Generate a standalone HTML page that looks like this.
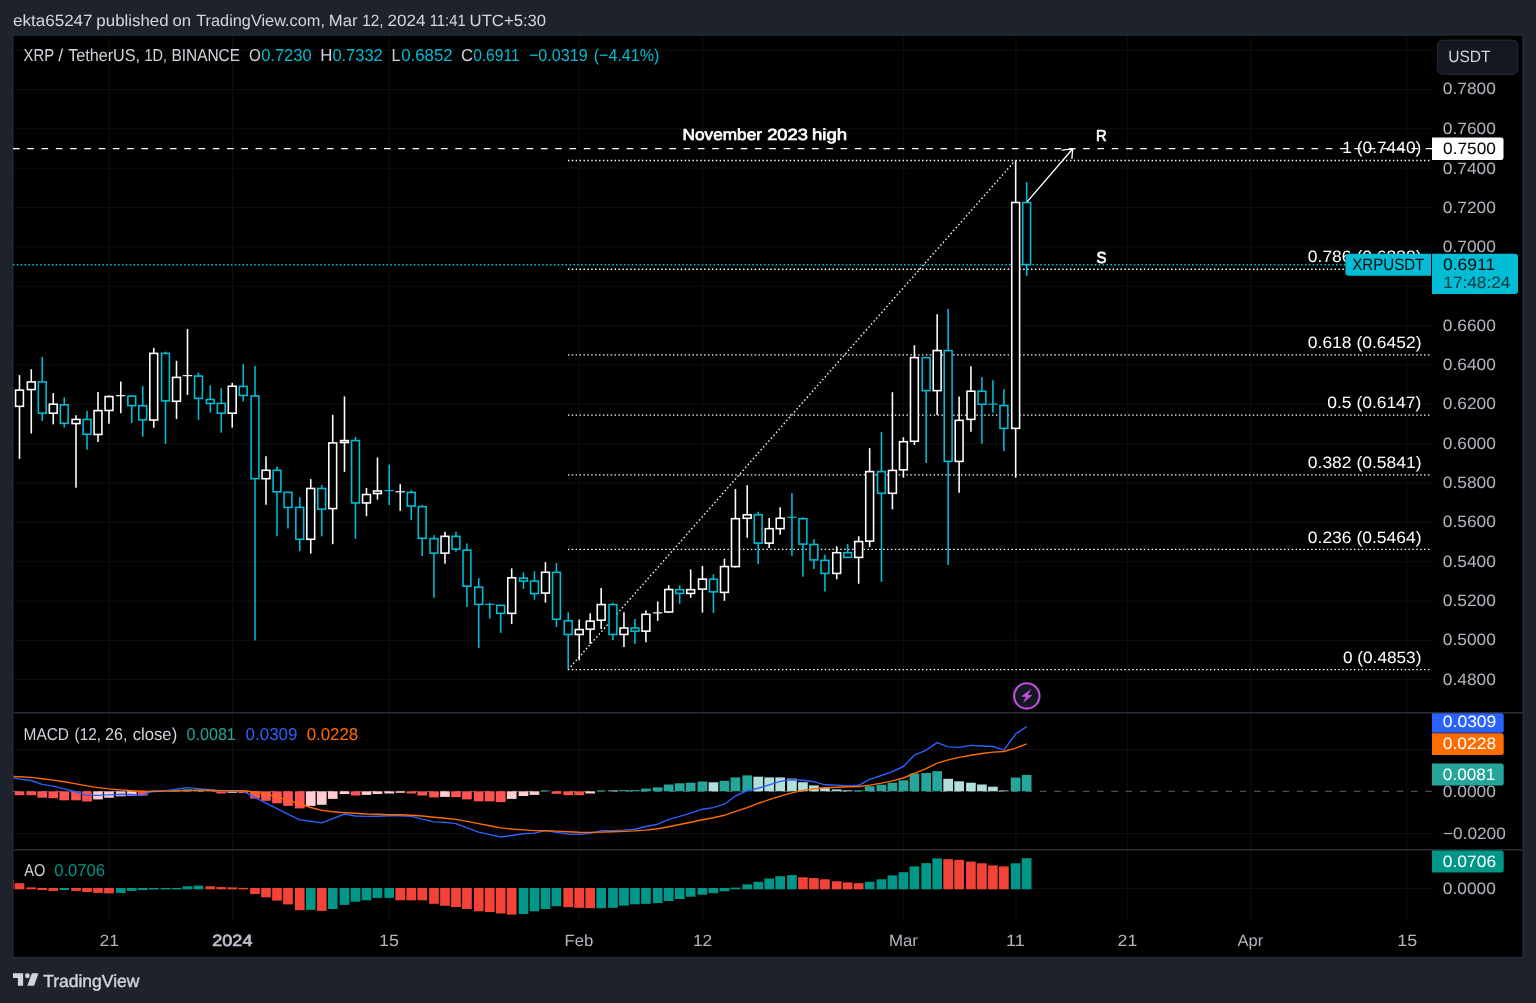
<!DOCTYPE html>
<html lang="en"><head><meta charset="utf-8"><title>XRP / TetherUS chart</title>
<style>html,body{margin:0;padding:0;background:#1e222d;overflow:hidden}svg{display:block}text{font-family:"Liberation Sans", Arial, sans-serif;white-space:pre;text-rendering:geometricPrecision}</style>
</head><body>
<svg width="1536" height="1003" viewBox="0 0 1536 1003">
<rect x="0" y="0" width="1536" height="1003" fill="#1e222d"/>
<rect x="12.1" y="34.3" width="1511.9" height="924" fill="#272b37"/>
<rect x="13.5" y="35.7" width="1508.9" height="921.2" fill="#000"/>
<g fill="rgba(255,255,255,0.06)"><rect x="108.69" y="36" width="1" height="885" /><rect x="231.94" y="36" width="1" height="885" /><rect x="388.94" y="36" width="1" height="885" /><rect x="578.91" y="36" width="1" height="885" /><rect x="702.15" y="36" width="1" height="885" /><rect x="903.11" y="36" width="1" height="885" /><rect x="1015.37" y="36" width="1" height="885" /><rect x="1126.84" y="36" width="1" height="885" /><rect x="1250.08" y="36" width="1" height="885" /><rect x="1406.3" y="36" width="1" height="885" /><rect x="14" y="49.5" width="1418" height="1"/><rect x="14" y="88.95" width="1418" height="1"/><rect x="14" y="128.31" width="1418" height="1"/><rect x="14" y="167.66" width="1418" height="1"/><rect x="14" y="207.01" width="1418" height="1"/><rect x="14" y="246.37" width="1418" height="1"/><rect x="14" y="285.72" width="1418" height="1"/><rect x="14" y="325.08" width="1418" height="1"/><rect x="14" y="364.43" width="1418" height="1"/><rect x="14" y="403.79" width="1418" height="1"/><rect x="14" y="443.14" width="1418" height="1"/><rect x="14" y="482.5" width="1418" height="1"/><rect x="14" y="521.86" width="1418" height="1"/><rect x="14" y="561.21" width="1418" height="1"/><rect x="14" y="600.56" width="1418" height="1"/><rect x="14" y="639.92" width="1418" height="1"/><rect x="14" y="679.27" width="1418" height="1"/><rect x="14" y="749" width="1418" height="1"/><rect x="14" y="832.9" width="1418" height="1"/><rect x="14" y="887.9" width="1418" height="1"/></g>
<rect x="14" y="712" width="1508" height="1.5" fill="#2a2e39"/>
<rect x="14" y="849" width="1508" height="1.5" fill="#2a2e39"/>
<g stroke="#fff" stroke-width="1.4" stroke-dasharray="1.45 2.4415" fill="none">
<line x1="567.9" y1="160.5" x2="1430" y2="160.5"/>
<line x1="567.9" y1="269.3" x2="1430" y2="269.3"/>
<line x1="567.9" y1="354.9" x2="1430" y2="354.9"/>
<line x1="567.9" y1="415.1" x2="1430" y2="415.1"/>
<line x1="567.9" y1="474.9" x2="1430" y2="474.9"/>
<line x1="567.9" y1="549.4" x2="1430" y2="549.4"/>
<line x1="567.9" y1="669.6" x2="1430" y2="669.6"/>
<line x1="568.1" y1="669.6" x2="1015.1" y2="160.6"/>
</g>
<line x1="12.9" y1="264.75" x2="1432" y2="264.75" stroke="#00bcd4" stroke-width="1.6" stroke-dasharray="1.6 2.2915"/>
<g stroke="#fff" stroke-width="1.57" fill="#000"><path d="M19.5 375.08V390.13"/><path d="M19.5 406.35V458.92"/><rect x="15.57" y="390.13" width="7.85" height="16.22"/><path d="M31.27 369.21V381.92"/><path d="M31.27 389.54V433.51"/><rect x="27.35" y="381.92" width="7.85" height="7.62"/><path d="M53.26 393.06V404.2"/><path d="M53.26 413.19V424.32"/><rect x="49.33" y="404.2" width="7.85" height="8.99"/><path d="M76.02 415.14V419.44"/><path d="M76.02 423.54V487.84"/><rect x="72.1" y="419.44" width="7.85" height="4.1"/><path d="M98 392.08V410.64"/><path d="M98 434.49V441.91"/><rect x="94.08" y="410.64" width="7.85" height="23.84"/><path d="M108.99 395.4V396.57"/><path d="M108.99 410.45V423.74"/><rect x="105.07" y="396.57" width="7.85" height="13.88"/><path d="M120.77 381.53V413.19"/><path stroke-width="1.15" d="M116.06 395.69H125.47"/><path d="M153.74 347.91V353.38"/><path d="M153.74 420.03V427.65"/><rect x="149.81" y="353.38" width="7.85" height="66.64"/><path d="M176.5 360.81V377.42"/><path d="M176.5 401.26V419.05"/><rect x="172.57" y="377.42" width="7.85" height="23.84"/><path d="M187.49 328.96V395.01"/><path stroke-width="1.15" d="M182.79 375.66H192.19"/><path d="M232.24 382.89V386.22"/><path d="M232.24 413.19V427.65"/><rect x="228.31" y="386.22" width="7.85" height="26.97"/><path d="M265.99 456.22V470.29"/><path d="M265.99 478.69V504.68"/><rect x="262.06" y="470.29" width="7.85" height="8.4"/><path d="M310.74 479.08V488.46"/><path d="M310.74 539.27V553.54"/><rect x="306.81" y="488.46" width="7.85" height="50.81"/><path d="M332.72 414.79V442.93"/><path d="M332.72 508.59V544.16"/><rect x="328.79" y="442.93" width="7.85" height="65.66"/><path d="M344.49 396.42V440.58"/><path d="M344.49 442.54V471.85"/><rect x="340.56" y="440.58" width="7.85" height="1.95"/><path d="M366.47 487.88V494.52"/><path d="M366.47 502.92V516.21"/><rect x="362.55" y="494.52" width="7.85" height="8.4"/><path d="M377.46 457.39V491"/><path d="M377.46 493.54V499.6"/><rect x="373.54" y="491" width="7.85" height="2.54"/><path d="M400.23 484.16V510.94"/><path stroke-width="1.15" d="M395.53 491.78H404.93"/><path d="M444.97 531.85V536.35"/><path d="M444.97 553.16V563.71"/><rect x="441.05" y="536.35" width="7.85" height="16.81"/><path d="M511.69 568.4V577.78"/><path d="M511.69 613.35V623.9"/><rect x="507.77" y="577.78" width="7.85" height="35.57"/><path d="M545.45 562.15V572.31"/><path d="M545.45 593.02V602.6"/><rect x="541.53" y="572.31" width="7.85" height="20.72"/><path d="M579.21 619.6V629.57"/><path d="M579.21 634.45V660.25"/><rect x="575.28" y="629.57" width="7.85" height="4.89"/><path d="M590.2 613.15V621.16"/><path d="M590.2 629.18V643.64"/><rect x="586.27" y="621.16" width="7.85" height="8.01"/><path d="M601.19 587.94V604.55"/><path d="M601.19 620.19V628.98"/><rect x="597.26" y="604.55" width="7.85" height="15.63"/><path d="M623.95 612.37V628"/><path d="M623.95 634.45V646.96"/><rect x="620.03" y="628" width="7.85" height="6.45"/><path d="M645.93 610.42V614.32"/><path d="M645.93 631.13V642.27"/><rect x="642.01" y="614.32" width="7.85" height="16.81"/><path d="M657.71 601.43V620.77"/><path stroke-width="1.15" d="M653 612.86H662.41"/><path d="M668.7 585.21V589.51"/><path d="M668.7 611.98V612.96"/><rect x="664.77" y="589.51" width="7.85" height="22.47"/><path d="M690.68 569.38V589.7"/><path d="M690.68 593.41V597.71"/><rect x="686.75" y="589.7" width="7.85" height="3.71"/><path d="M702.45 566.05V579.15"/><path d="M702.45 589.11V612.57"/><rect x="698.53" y="579.15" width="7.85" height="9.97"/><path d="M724.43 558.75V566.57"/><path d="M724.43 592.37V600.77"/><rect x="720.51" y="566.57" width="7.85" height="25.8"/><path d="M735.42 488.99V518.69"/><path d="M735.42 566.57V567.55"/><rect x="731.5" y="518.69" width="7.85" height="47.88"/><path d="M747.2 485.27V514.78"/><path d="M747.2 518.3V537.84"/><rect x="743.27" y="514.78" width="7.85" height="3.52"/><path d="M769.18 518.1V528.66"/><path d="M769.18 543.12V548"/><rect x="765.25" y="528.66" width="7.85" height="14.46"/><path d="M780.17 507.36V518.3"/><path d="M780.17 528.66V534.72"/><rect x="776.24" y="518.3" width="7.85" height="10.36"/><path d="M836.69 546.25V552.69"/><path d="M836.69 573.41V579.27"/><rect x="832.76" y="552.69" width="7.85" height="20.72"/><path d="M858.67 536.28V541.56"/><path d="M858.67 557.39V583.77"/><rect x="854.74" y="541.56" width="7.85" height="15.83"/><path d="M869.66 448.14V471.59"/><path d="M869.66 541.16V547.03"/><rect x="865.73" y="471.59" width="7.85" height="69.57"/><path d="M892.42 392.2V470.42"/><path d="M892.42 493.29V509.31"/><rect x="888.5" y="470.42" width="7.85" height="22.86"/><path d="M903.41 437.2V441.69"/><path d="M903.41 469.83V477.65"/><rect x="899.49" y="441.69" width="7.85" height="28.14"/><path d="M914.4 345.31V357.62"/><path d="M914.4 441.26V444.97"/><rect x="910.48" y="357.62" width="7.85" height="83.64"/><path d="M937.17 314.23V350.58"/><path d="M937.17 390.64V415.07"/><rect x="933.24" y="350.58" width="7.85" height="40.06"/><path d="M959.14 396.51V420.35"/><path d="M959.14 461.39V492.7"/><rect x="955.22" y="420.35" width="7.85" height="41.04"/><path d="M970.92 366.22V391.23"/><path d="M970.92 419.37V431.68"/><rect x="967" y="391.23" width="7.85" height="28.14"/><path d="M1015.67 160.5V202.5"/><path d="M1015.67 428.36V477.61"/><rect x="1011.74" y="202.5" width="7.85" height="225.86"/></g>
<g stroke="#00bcd4" stroke-width="1.57" fill="#000"><path d="M42.27 356.9V381.92"/><path d="M42.27 413.19V421"/><rect x="38.34" y="381.92" width="7.85" height="31.27"/><path d="M64.25 397.36V404.78"/><path d="M64.25 423.35V427.65"/><rect x="60.32" y="404.78" width="7.85" height="18.57"/><path d="M87.01 410.84V419.44"/><path d="M87.01 434.29V449.73"/><rect x="83.09" y="419.44" width="7.85" height="14.85"/><path d="M131.75 395.4V396.18"/><path d="M131.75 405.56V422.96"/><rect x="127.83" y="396.18" width="7.85" height="9.38"/><path d="M142.75 386.22V405.76"/><path d="M142.75 419.83V436.64"/><rect x="138.82" y="405.76" width="7.85" height="14.07"/><path d="M165.51 351.63V353.38"/><path d="M165.51 400.87V443.87"/><rect x="161.59" y="353.38" width="7.85" height="47.49"/><path d="M198.48 372.54V376.05"/><path d="M198.48 398.33V419.83"/><rect x="194.56" y="376.05" width="7.85" height="22.28"/><path d="M210.25 385.24V399.51"/><path d="M210.25 403.41V412.6"/><rect x="206.33" y="399.51" width="7.85" height="3.91"/><path d="M221.25 388.17V403.41"/><path d="M221.25 413.19V432.73"/><rect x="217.32" y="403.41" width="7.85" height="9.77"/><path d="M243.23 364.13V386.41"/><path d="M243.23 395.4V401.46"/><rect x="239.3" y="386.41" width="7.85" height="8.99"/><path d="M255 366.09V395.99"/><path d="M255 478.65V640.5"/><rect x="251.07" y="395.99" width="7.85" height="82.67"/><path d="M276.98 466.38V470.29"/><path d="M276.98 491.78V536.34"/><rect x="273.06" y="470.29" width="7.85" height="21.5"/><path d="M287.97 507.42V528.52"/><rect x="284.05" y="492.37" width="7.85" height="15.05"/><path d="M299.75 497.26V507.42"/><path d="M299.75 539.27V551.19"/><rect x="295.82" y="507.42" width="7.85" height="31.85"/><path d="M321.73 484.94V488.46"/><path d="M321.73 509.18V536.34"/><rect x="317.8" y="488.46" width="7.85" height="20.72"/><path d="M355.48 436.87V440.58"/><path d="M355.48 502.92V538.88"/><rect x="351.56" y="440.58" width="7.85" height="62.34"/><path d="M389.24 464.62V505.07"/><path stroke-width="1.15" d="M384.54 490.61H393.94"/><path d="M411.22 490.42V492.37"/><path d="M411.22 506.05V520.12"/><rect x="407.29" y="492.37" width="7.85" height="13.68"/><path d="M422.21 505.07V506.64"/><path d="M422.21 538.3V555.88"/><rect x="418.28" y="506.64" width="7.85" height="31.66"/><path d="M433.98 535.18V538.69"/><path d="M433.98 553.16V597.71"/><rect x="430.06" y="538.69" width="7.85" height="14.46"/><path d="M455.96 531.85V536.35"/><path d="M455.96 549.25V551.79"/><rect x="452.04" y="536.35" width="7.85" height="12.9"/><path d="M466.95 543.38V550.22"/><path d="M466.95 586.18V607.09"/><rect x="463.03" y="550.22" width="7.85" height="35.96"/><path d="M478.73 578.17V587.16"/><path d="M478.73 604.36V647.94"/><rect x="474.8" y="587.16" width="7.85" height="17.2"/><path d="M489.72 602.6V618.82"/><path stroke-width="1.15" d="M485.02 604.36H494.42"/><path d="M500.71 613.35V632.89"/><rect x="496.78" y="605.34" width="7.85" height="8.01"/><path d="M523.47 572.31V578.17"/><path d="M523.47 581.1V588.92"/><rect x="519.55" y="578.17" width="7.85" height="2.93"/><path d="M534.46 571.33V581.1"/><path d="M534.46 593.61V599.67"/><rect x="530.54" y="581.1" width="7.85" height="12.51"/><path d="M556.44 563.12V572.31"/><path d="M556.44 619.21V627.03"/><rect x="552.52" y="572.31" width="7.85" height="46.9"/><path d="M568.22 612.37V620.77"/><path d="M568.22 634.45V669.24"/><rect x="564.29" y="620.77" width="7.85" height="13.68"/><path d="M612.96 602.99V604.55"/><path d="M612.96 634.45V640.12"/><rect x="609.04" y="604.55" width="7.85" height="29.9"/><path d="M634.94 619.02V628"/><path d="M634.94 631.13V644.03"/><rect x="631.02" y="628" width="7.85" height="3.13"/><path d="M679.69 585.21V589.7"/><path d="M679.69 593.41V603.77"/><rect x="675.76" y="589.7" width="7.85" height="3.71"/><path d="M713.44 574.26V579.15"/><path d="M713.44 591.85V612.96"/><rect x="709.52" y="579.15" width="7.85" height="12.7"/><path d="M758.19 511.85V514.78"/><path d="M758.19 543.12V564.03"/><rect x="754.26" y="514.78" width="7.85" height="28.34"/><path d="M791.94 493.09V555.82"/><path stroke-width="1.15" d="M787.24 517.32H796.64"/><path d="M802.93 517.13V518.69"/><path d="M802.93 544.1V576.73"/><rect x="799.01" y="518.69" width="7.85" height="25.41"/><path d="M813.92 539.21V544.49"/><path d="M813.92 559.93V568.92"/><rect x="810" y="544.49" width="7.85" height="15.44"/><path d="M824.91 554.84V560.32"/><path d="M824.91 573.41V591.58"/><rect x="820.99" y="560.32" width="7.85" height="13.09"/><path d="M847.68 544.1V552.69"/><rect x="843.75" y="552.69" width="7.85" height="4.69"/><path d="M881.43 432.12V471.59"/><path d="M881.43 493.29V581.81"/><rect x="877.51" y="471.59" width="7.85" height="21.69"/><path d="M926.18 390.64V462.95"/><rect x="922.25" y="357.62" width="7.85" height="33.03"/><path d="M948.16 308.96V350.58"/><path d="M948.16 461.39V565"/><rect x="944.23" y="350.58" width="7.85" height="110.81"/><path d="M981.91 376.97V391.23"/><path d="M981.91 404.32V443.8"/><rect x="977.99" y="391.23" width="7.85" height="13.09"/><path d="M992.9 380.29V412.73"/><path stroke-width="1.15" d="M988.2 404.13H997.6"/><path d="M1003.89 389.28V405.5"/><path d="M1003.89 428.36V451.03"/><rect x="999.97" y="405.5" width="7.85" height="22.86"/><path d="M1026.66 182.1V202.5"/><path d="M1026.66 264.6V275.8"/><rect x="1022.73" y="202.5" width="7.85" height="62.1"/></g>
<line x1="13" y1="148.6" x2="1432" y2="148.6" stroke="#fff" stroke-width="1.45" stroke-dasharray="6.6 7.669"/>
<g stroke="#fff" stroke-width="1.35" fill="none" stroke-linecap="round" stroke-linejoin="round"><path d="M1027.5 201.4L1072.7 148.8"/><path d="M1062.2 150.1L1072.7 148.8L1071.9 158.4"/></g>
<text x="682.61" y="140.1" font-size="16" fill="#fff" textLength="79.32" lengthAdjust="spacingAndGlyphs" stroke="#fff" stroke-width="0.7" stroke-linejoin="round">November</text>
<text x="767.2" y="140.1" font-size="16" fill="#fff" textLength="40.71" lengthAdjust="spacingAndGlyphs" stroke="#fff" stroke-width="0.7" stroke-linejoin="round">2023</text>
<text x="811.98" y="140.1" font-size="16" fill="#fff" textLength="35.1" lengthAdjust="spacingAndGlyphs" stroke="#fff" stroke-width="0.7" stroke-linejoin="round">high</text>
<text x="1095.91" y="140.8" font-size="16" fill="#fff" textLength="10.65" lengthAdjust="spacingAndGlyphs" stroke="#fff" stroke-width="0.7" stroke-linejoin="round">R</text>
<text x="1096.58" y="262.6" font-size="16" fill="#fff" textLength="9.97" lengthAdjust="spacingAndGlyphs" stroke="#fff" stroke-width="0.7" stroke-linejoin="round">S</text>
<text x="1342.35" y="152.8" font-size="16.5" fill="#fff" textLength="78.93" lengthAdjust="spacingAndGlyphs">1 (0.7440)</text>
<text x="1307.83" y="262.4" font-size="16.5" fill="#fff" textLength="113.64" lengthAdjust="spacingAndGlyphs">0.786 (0.6888)</text>
<text x="1307.83" y="348" font-size="16.5" fill="#fff" textLength="113.64" lengthAdjust="spacingAndGlyphs">0.618 (0.6452)</text>
<text x="1327.35" y="408.2" font-size="16.5" fill="#fff" textLength="93.93" lengthAdjust="spacingAndGlyphs">0.5 (0.6147)</text>
<text x="1307.83" y="468" font-size="16.5" fill="#fff" textLength="113.64" lengthAdjust="spacingAndGlyphs">0.382 (0.5841)</text>
<text x="1307.83" y="542.5" font-size="16.5" fill="#fff" textLength="113.64" lengthAdjust="spacingAndGlyphs">0.236 (0.5464)</text>
<text x="1342.96" y="662.7" font-size="16.5" fill="#fff" textLength="78.44" lengthAdjust="spacingAndGlyphs">0 (0.4853)</text>
<line x1="12.6" y1="791.3" x2="1432" y2="791.3" stroke="#787b86" stroke-opacity="0.8" stroke-width="1" stroke-dasharray="6.6 7.669"/>
<g fill="#ff5252"><rect x="14.65" y="791.3" width="9.7" height="3.9"/><rect x="26.42" y="791.3" width="9.7" height="3.9"/><rect x="37.41" y="791.3" width="9.7" height="6.4"/><rect x="48.41" y="791.3" width="9.7" height="6.9"/><rect x="59.4" y="791.3" width="9.7" height="9"/><rect x="71.17" y="791.3" width="9.7" height="9"/><rect x="82.16" y="791.3" width="9.7" height="10.2"/><rect x="137.9" y="791.3" width="9.7" height="4.4"/><rect x="216.4" y="791.3" width="9.7" height="2.2"/><rect x="238.38" y="791.3" width="9.7" height="1.7"/><rect x="250.15" y="791.3" width="9.7" height="7.3"/><rect x="261.14" y="791.3" width="9.7" height="9.5"/><rect x="272.13" y="791.3" width="9.7" height="12"/><rect x="283.12" y="791.3" width="9.7" height="14.6"/><rect x="294.89" y="791.3" width="9.7" height="17.1"/><rect x="350.63" y="791.3" width="9.7" height="4.2"/><rect x="406.37" y="791.3" width="9.7" height="2.2"/><rect x="417.36" y="791.3" width="9.7" height="4.2"/><rect x="429.13" y="791.3" width="9.7" height="6.1"/><rect x="451.11" y="791.3" width="9.7" height="5.8"/><rect x="462.1" y="791.3" width="9.7" height="8.1"/><rect x="473.88" y="791.3" width="9.7" height="10"/><rect x="484.87" y="791.3" width="9.7" height="10"/><rect x="495.86" y="791.3" width="9.7" height="10.8"/><rect x="551.59" y="791.3" width="9.7" height="2.5"/><rect x="563.37" y="791.3" width="9.7" height="3.9"/><rect x="574.36" y="791.3" width="9.7" height="3.9"/></g>
<g fill="#ffcdd2"><rect x="93.15" y="791.3" width="9.7" height="8.1"/><rect x="104.14" y="791.3" width="9.7" height="6.4"/><rect x="115.92" y="791.3" width="9.7" height="5"/><rect x="126.91" y="791.3" width="9.7" height="4.4"/><rect x="227.39" y="791.3" width="9.7" height="1.5"/><rect x="305.88" y="791.3" width="9.7" height="14.6"/><rect x="316.88" y="791.3" width="9.7" height="13.5"/><rect x="327.87" y="791.3" width="9.7" height="7.6"/><rect x="339.64" y="791.3" width="9.7" height="2.7"/><rect x="361.62" y="791.3" width="9.7" height="3.6"/><rect x="372.61" y="791.3" width="9.7" height="2.7"/><rect x="384.38" y="791.3" width="9.7" height="2.2"/><rect x="395.38" y="791.3" width="9.7" height="1.5"/><rect x="440.12" y="791.3" width="9.7" height="5.6"/><rect x="506.84" y="791.3" width="9.7" height="7.6"/><rect x="518.62" y="791.3" width="9.7" height="4.7"/><rect x="529.61" y="791.3" width="9.7" height="3.6"/><rect x="585.35" y="791.3" width="9.7" height="2.2"/></g>
<g fill="#26a69a"><rect x="148.89" y="790.5" width="9.7" height="0.8"/><rect x="160.66" y="790.5" width="9.7" height="0.8"/><rect x="171.65" y="790.1" width="9.7" height="1.2"/><rect x="182.64" y="789.3" width="9.7" height="2"/><rect x="540.6" y="790.5" width="9.7" height="0.8"/><rect x="596.34" y="790.5" width="9.7" height="0.8"/><rect x="619.1" y="790.1" width="9.7" height="1.2"/><rect x="630.09" y="790.1" width="9.7" height="1.2"/><rect x="641.08" y="788.6" width="9.7" height="2.7"/><rect x="652.86" y="787.4" width="9.7" height="3.9"/><rect x="663.85" y="784.5" width="9.7" height="6.8"/><rect x="674.84" y="783.3" width="9.7" height="8"/><rect x="685.83" y="782.7" width="9.7" height="8.6"/><rect x="697.6" y="781.5" width="9.7" height="9.8"/><rect x="719.58" y="780.8" width="9.7" height="10.5"/><rect x="730.57" y="777.4" width="9.7" height="13.9"/><rect x="742.35" y="775.4" width="9.7" height="15.9"/><rect x="853.82" y="790.3" width="9.7" height="1"/><rect x="864.81" y="786.2" width="9.7" height="5.1"/><rect x="876.58" y="784.7" width="9.7" height="6.6"/><rect x="887.57" y="782.8" width="9.7" height="8.5"/><rect x="898.56" y="780.3" width="9.7" height="11"/><rect x="909.55" y="773.5" width="9.7" height="17.8"/><rect x="921.33" y="773" width="9.7" height="18.3"/><rect x="932.32" y="771.2" width="9.7" height="20.1"/><rect x="1010.82" y="777.6" width="9.7" height="13.7"/><rect x="1021.81" y="774.9" width="9.7" height="16.4"/></g>
<g fill="#b2dfdb"><rect x="193.63" y="789.8" width="9.7" height="1.5"/><rect x="205.41" y="790.3" width="9.7" height="1"/><rect x="608.11" y="790.5" width="9.7" height="0.8"/><rect x="708.59" y="782.3" width="9.7" height="9"/><rect x="753.34" y="776.7" width="9.7" height="14.6"/><rect x="764.33" y="777.4" width="9.7" height="13.9"/><rect x="775.32" y="777.4" width="9.7" height="13.9"/><rect x="787.09" y="778.6" width="9.7" height="12.7"/><rect x="798.08" y="782.2" width="9.7" height="9.1"/><rect x="809.07" y="785.4" width="9.7" height="5.9"/><rect x="820.06" y="787.6" width="9.7" height="3.7"/><rect x="831.84" y="789.4" width="9.7" height="1.9"/><rect x="842.83" y="790.3" width="9.7" height="1"/><rect x="943.31" y="778.8" width="9.7" height="12.5"/><rect x="954.29" y="781.3" width="9.7" height="10"/><rect x="966.07" y="782.7" width="9.7" height="8.6"/><rect x="977.06" y="784.5" width="9.7" height="6.8"/><rect x="988.05" y="786.7" width="9.7" height="4.6"/><rect x="999.04" y="790.5" width="9.7" height="0.8"/></g>
<polyline fill="none" stroke="#2962ff" stroke-width="1.4" stroke-linejoin="round" points="13.5,778 19.5,779.1 31.27,780.5 42.27,784.4 53.26,786.1 64.25,788.9 76.02,792 87.01,795.4 98,795.4 108.99,794.9 120.77,794.3 131.75,794.5 142.75,795.4 153.74,790.6 165.51,790.6 176.5,789.3 187.49,787.6 198.48,788.6 210.25,789.8 221.25,791.1 232.24,791.1 243.23,791.1 255,797.6 265.99,803.1 276.98,808.7 287.97,814.2 299.75,819.9 310.74,821.2 321.73,822.9 332.72,818.6 344.49,814 355.48,816 366.47,816.4 377.46,816.2 389.24,815.8 400.23,815.7 411.22,816.4 422.21,819.1 433.98,821.9 444.97,822.4 455.96,823.6 466.95,827.9 478.73,832.1 489.72,834.6 500.71,837 511.69,835.5 523.47,833.8 534.46,833.1 545.45,830.6 556.44,832.4 568.22,834 579.21,834.3 590.2,833.4 601.19,830.7 612.96,830.7 623.95,830.1 634.94,829.2 645.93,826.5 657.71,824.1 668.7,819.4 679.69,816.4 690.68,813.1 702.45,809.2 713.44,807.6 724.43,804.2 735.42,796 747.2,790.7 758.19,788.2 769.18,784.8 780.17,781.4 791.94,779.7 802.93,780.2 813.92,781.7 824.91,784.8 836.69,785.1 847.68,786 858.67,785.3 869.66,779.4 881.43,775.5 892.42,771.6 903.41,766.5 914.4,755.2 926.18,750.1 937.17,742.7 948.16,746.9 959.14,747.4 970.92,745.4 981.91,746 992.9,746.5 1003.89,750.2 1015.67,733.8 1026.66,726.7"/>
<polyline fill="none" stroke="#ff6d00" stroke-width="1.4" stroke-linejoin="round" points="13.5,776.5 19.5,776.7 31.27,777.4 42.27,778.8 53.26,780.1 64.25,781.8 76.02,783.9 87.01,785.9 98,787.6 108.99,788.9 120.77,789.9 131.75,790.8 142.75,791.3 153.74,791.6 165.51,791.1 176.5,791 187.49,790.6 198.48,790.3 210.25,790.3 221.25,790.6 232.24,790.6 243.23,790.8 255,792 265.99,794.3 276.98,796.9 287.97,800.2 299.75,803.9 310.74,807.5 321.73,810.4 332.72,811.8 344.49,812.6 355.48,813.3 366.47,814 377.46,814.3 389.24,814.7 400.23,814.8 411.22,815.2 422.21,816 433.98,817.2 444.97,818.2 455.96,819.4 466.95,821.4 478.73,823.6 489.72,825.8 500.71,827.9 511.69,829 523.47,829.9 534.46,830.6 545.45,830.7 556.44,831.1 568.22,831.8 579.21,832.3 590.2,832.4 601.19,832.1 612.96,831.8 623.95,831.4 634.94,830.9 645.93,830.1 657.71,828.7 668.7,826.7 679.69,824.5 690.68,822.3 702.45,819.7 713.44,817.7 724.43,815.3 735.42,811.3 747.2,807.6 758.19,803.4 769.18,799.7 780.17,796.1 791.94,792.9 802.93,790.4 813.92,788.7 824.91,787.8 836.69,787.3 847.68,786.8 858.67,786.5 869.66,785.1 881.43,783.1 892.42,780.9 903.41,778 914.4,773.3 926.18,768.7 937.17,763.1 948.16,759.9 959.14,757.4 970.92,755.2 981.91,753.5 992.9,752.1 1003.89,751.5 1015.67,748.2 1026.66,743.9"/>
<g fill="#f44336"><rect x="13.5" y="880.1" width="0.5" height="9.2"/><rect x="14.65" y="883.2" width="9.7" height="6.1"/><rect x="26.42" y="887.4" width="9.7" height="1.9"/><rect x="37.41" y="888" width="9.7" height="2"/><rect x="48.41" y="888" width="9.7" height="2.9"/><rect x="71.17" y="888" width="9.7" height="2.9"/><rect x="82.16" y="888" width="9.7" height="4"/><rect x="93.15" y="888" width="9.7" height="4.9"/><rect x="104.14" y="888" width="9.7" height="5.3"/><rect x="205.41" y="886.3" width="9.7" height="3"/><rect x="216.4" y="887.1" width="9.7" height="2.2"/><rect x="227.39" y="887.4" width="9.7" height="1.9"/><rect x="238.38" y="887.9" width="9.7" height="1.4"/><rect x="250.15" y="888" width="9.7" height="6.1"/><rect x="261.14" y="888" width="9.7" height="9.3"/><rect x="272.13" y="888" width="9.7" height="12.6"/><rect x="283.12" y="888" width="9.7" height="16.4"/><rect x="294.89" y="888" width="9.7" height="22.2"/><rect x="316.88" y="888" width="9.7" height="22.9"/><rect x="395.38" y="888" width="9.7" height="12.3"/><rect x="406.37" y="888" width="9.7" height="12.3"/><rect x="417.36" y="888" width="9.7" height="12.3"/><rect x="429.13" y="888" width="9.7" height="15.8"/><rect x="440.12" y="888" width="9.7" height="17.8"/><rect x="451.11" y="888" width="9.7" height="19"/><rect x="462.1" y="888" width="9.7" height="21"/><rect x="473.88" y="888" width="9.7" height="23.3"/><rect x="484.87" y="888" width="9.7" height="24"/><rect x="495.86" y="888" width="9.7" height="25.4"/><rect x="506.84" y="888" width="9.7" height="26.6"/><rect x="563.37" y="888" width="9.7" height="19.2"/><rect x="574.36" y="888" width="9.7" height="19.8"/><rect x="585.35" y="888" width="9.7" height="20.2"/><rect x="798.08" y="877.3" width="9.7" height="12"/><rect x="809.07" y="878.1" width="9.7" height="11.2"/><rect x="820.06" y="879.3" width="9.7" height="10"/><rect x="831.84" y="881.3" width="9.7" height="8"/><rect x="842.83" y="882.4" width="9.7" height="6.9"/><rect x="853.82" y="883.2" width="9.7" height="6.1"/><rect x="943.31" y="859.2" width="9.7" height="30.1"/><rect x="954.29" y="859.8" width="9.7" height="29.5"/><rect x="966.07" y="861.6" width="9.7" height="27.7"/><rect x="977.06" y="863.3" width="9.7" height="26"/><rect x="988.05" y="865.4" width="9.7" height="23.9"/><rect x="999.04" y="866.4" width="9.7" height="22.9"/></g>
<g fill="#009688"><rect x="59.4" y="888" width="9.7" height="2"/><rect x="115.92" y="888" width="9.7" height="4.9"/><rect x="126.91" y="888" width="9.7" height="2.9"/><rect x="137.9" y="888" width="9.7" height="2"/><rect x="148.89" y="888" width="9.7" height="1.6"/><rect x="160.66" y="888" width="9.7" height="1.4"/><rect x="171.65" y="888" width="9.7" height="1.4"/><rect x="182.64" y="886.3" width="9.7" height="3"/><rect x="193.63" y="885.6" width="9.7" height="3.7"/><rect x="305.88" y="888" width="9.7" height="21.9"/><rect x="327.87" y="888" width="9.7" height="21"/><rect x="339.64" y="888" width="9.7" height="16.9"/><rect x="350.63" y="888" width="9.7" height="13.7"/><rect x="361.62" y="888" width="9.7" height="12.3"/><rect x="372.61" y="888" width="9.7" height="9.9"/><rect x="384.38" y="888" width="9.7" height="9.9"/><rect x="518.62" y="888" width="9.7" height="26"/><rect x="529.61" y="888" width="9.7" height="23.3"/><rect x="540.6" y="888" width="9.7" height="21"/><rect x="551.59" y="888" width="9.7" height="18.2"/><rect x="596.34" y="888" width="9.7" height="20.2"/><rect x="608.11" y="888" width="9.7" height="19.8"/><rect x="619.1" y="888" width="9.7" height="17.6"/><rect x="630.09" y="888" width="9.7" height="16.3"/><rect x="641.08" y="888" width="9.7" height="15.8"/><rect x="652.86" y="888" width="9.7" height="15.1"/><rect x="663.85" y="888" width="9.7" height="13.1"/><rect x="674.84" y="888" width="9.7" height="11.1"/><rect x="685.83" y="888" width="9.7" height="8.7"/><rect x="697.6" y="888" width="9.7" height="6.7"/><rect x="708.59" y="888" width="9.7" height="5.2"/><rect x="719.58" y="888" width="9.7" height="3.2"/><rect x="730.57" y="887.6" width="9.7" height="1.7"/><rect x="742.35" y="884.4" width="9.7" height="4.9"/><rect x="753.34" y="881.8" width="9.7" height="7.5"/><rect x="764.33" y="878.5" width="9.7" height="10.8"/><rect x="775.32" y="876.2" width="9.7" height="13.1"/><rect x="787.09" y="875.1" width="9.7" height="14.2"/><rect x="864.81" y="881.8" width="9.7" height="7.5"/><rect x="876.58" y="879.3" width="9.7" height="10"/><rect x="887.57" y="875.4" width="9.7" height="13.9"/><rect x="898.56" y="872.2" width="9.7" height="17.1"/><rect x="909.55" y="866.4" width="9.7" height="22.9"/><rect x="921.33" y="863.1" width="9.7" height="26.2"/><rect x="932.32" y="858.4" width="9.7" height="30.9"/><rect x="1010.82" y="863.3" width="9.7" height="26"/><rect x="1021.81" y="858.2" width="9.7" height="31.1"/></g>
<g transform="translate(1026.8 695.9)"><circle r="12.7" fill="#131722" stroke="#c14fdc" stroke-width="2.1"/><path d="M4.3 -7L-5.7 0.6L-0.9 1L-4 7.1L5.7 -0.6L1.1 -1Z" fill="#c14fdc"/></g>
<text x="1442.84" y="94.45" font-size="16.5" fill="#b2b5be" textLength="53.05" lengthAdjust="spacingAndGlyphs">0.7800</text>
<text x="1442.84" y="133.81" font-size="16.5" fill="#b2b5be" textLength="53.05" lengthAdjust="spacingAndGlyphs">0.7600</text>
<text x="1442.84" y="174.16" font-size="16.5" fill="#b2b5be" textLength="53.05" lengthAdjust="spacingAndGlyphs">0.7400</text>
<text x="1442.84" y="212.51" font-size="16.5" fill="#b2b5be" textLength="53.05" lengthAdjust="spacingAndGlyphs">0.7200</text>
<text x="1442.84" y="251.87" font-size="16.5" fill="#b2b5be" textLength="53.05" lengthAdjust="spacingAndGlyphs">0.7000</text>
<text x="1442.84" y="291.22" font-size="16.5" fill="#b2b5be" textLength="53.05" lengthAdjust="spacingAndGlyphs">0.6800</text>
<text x="1442.84" y="330.58" font-size="16.5" fill="#b2b5be" textLength="53.05" lengthAdjust="spacingAndGlyphs">0.6600</text>
<text x="1442.84" y="369.93" font-size="16.5" fill="#b2b5be" textLength="53.05" lengthAdjust="spacingAndGlyphs">0.6400</text>
<text x="1442.84" y="409.29" font-size="16.5" fill="#b2b5be" textLength="53.05" lengthAdjust="spacingAndGlyphs">0.6200</text>
<text x="1442.84" y="448.64" font-size="16.5" fill="#b2b5be" textLength="53.05" lengthAdjust="spacingAndGlyphs">0.6000</text>
<text x="1442.84" y="488" font-size="16.5" fill="#b2b5be" textLength="53.05" lengthAdjust="spacingAndGlyphs">0.5800</text>
<text x="1442.84" y="527.36" font-size="16.5" fill="#b2b5be" textLength="53.05" lengthAdjust="spacingAndGlyphs">0.5600</text>
<text x="1442.84" y="566.71" font-size="16.5" fill="#b2b5be" textLength="53.05" lengthAdjust="spacingAndGlyphs">0.5400</text>
<text x="1442.84" y="606.06" font-size="16.5" fill="#b2b5be" textLength="53.05" lengthAdjust="spacingAndGlyphs">0.5200</text>
<text x="1442.84" y="645.42" font-size="16.5" fill="#b2b5be" textLength="53.05" lengthAdjust="spacingAndGlyphs">0.5000</text>
<text x="1442.84" y="684.77" font-size="16.5" fill="#b2b5be" textLength="53.05" lengthAdjust="spacingAndGlyphs">0.4800</text>
<text x="1442.84" y="797.1" font-size="16.5" fill="#b2b5be" textLength="53.05" lengthAdjust="spacingAndGlyphs">0.0000</text>
<text x="1442.93" y="838.7" font-size="16.5" fill="#b2b5be" textLength="62.9" lengthAdjust="spacingAndGlyphs">−0.0200</text>
<text x="1442.84" y="894" font-size="16.5" fill="#b2b5be" textLength="53.05" lengthAdjust="spacingAndGlyphs">0.0000</text>
<path d="M1432 137.4H1501Q1503.5 137.4 1503.5 139.9V157.4Q1503.5 159.9 1501 159.9H1432Z" fill="#fff"/>
<text x="1443.05" y="153.9" font-size="16.5" fill="#000" textLength="52.94" lengthAdjust="spacingAndGlyphs">0.7500</text>
<path d="M1348.4 253.8H1431V275.8H1348.4Q1345.4 275.8 1345.4 272.8V256.8Q1345.4 253.8 1348.4 253.8Z" fill="#00bcd4"/>
<text x="1352.26" y="270" font-size="16.5" fill="#0a0a0a" textLength="72.04" lengthAdjust="spacingAndGlyphs">XRPUSDT</text>
<path d="M1432 253.8H1515Q1518 253.8 1518 256.8V290.9Q1518 293.9 1515 293.9H1432Z" fill="#00bcd4"/>
<text x="1442.99" y="270" font-size="16.5" fill="#0a0a0a" textLength="52.21" lengthAdjust="spacingAndGlyphs">0.6911</text>
<text x="1443.29" y="287.9" font-size="16.5" fill="#0a0a0a" textLength="67.18" lengthAdjust="spacingAndGlyphs" fill-opacity="0.75">17:48:24</text>
<path d="M1432 713.3H1501.2Q1503.7 713.3 1503.7 715.8V730.2Q1503.7 732.7 1501.2 732.7H1432Z" fill="#2962ff"/>
<text x="1442.82" y="727.3" font-size="16.5" fill="#fff" textLength="53.51" lengthAdjust="spacingAndGlyphs">0.0309</text>
<path d="M1432 733.2H1501.2Q1503.7 733.2 1503.7 735.7V752.5Q1503.7 755 1501.2 755H1432Z" fill="#ff6d00"/>
<text x="1442.83" y="749.4" font-size="16.5" fill="#fff" textLength="53.25" lengthAdjust="spacingAndGlyphs">0.0228</text>
<path d="M1432 763.5H1501.2Q1503.7 763.5 1503.7 766V783Q1503.7 785.5 1501.2 785.5H1432Z" fill="#26a69a"/>
<text x="1442.87" y="779.9" font-size="16.5" fill="#fff" textLength="52.43" lengthAdjust="spacingAndGlyphs">0.0081</text>
<path d="M1432 850.4H1501.2Q1503.7 850.4 1503.7 852.9V870Q1503.7 872.5 1501.2 872.5H1432Z" fill="#009688"/>
<text x="1442.83" y="867.1" font-size="16.5" fill="#fff" textLength="53.25" lengthAdjust="spacingAndGlyphs">0.0706</text>
<rect x="1437.6" y="40.1" width="80.2" height="34.2" rx="5" fill="#131722" stroke="#2a2e39" stroke-width="1"/>
<text x="1448.25" y="62.3" font-size="16.5" fill="#d1d4dc" textLength="42.33" lengthAdjust="spacingAndGlyphs">USDT</text>
<text x="99.43" y="946.1" font-size="16.3" fill="#b2b5be" textLength="19.5" lengthAdjust="spacingAndGlyphs">21</text>
<text x="212.25" y="946.1" font-size="16.3" fill="#bcbfc9" textLength="40.25" lengthAdjust="spacingAndGlyphs" stroke="#bcbfc9" stroke-width="0.7" stroke-linejoin="round">2024</text>
<text x="379.02" y="946.1" font-size="16.3" fill="#b2b5be" textLength="19.97" lengthAdjust="spacingAndGlyphs">15</text>
<text x="564.56" y="946.1" font-size="16.3" fill="#b2b5be" textLength="28.78" lengthAdjust="spacingAndGlyphs">Feb</text>
<text x="692.97" y="946.1" font-size="16.3" fill="#b2b5be" textLength="19.18" lengthAdjust="spacingAndGlyphs">12</text>
<text x="888.95" y="946.1" font-size="16.3" fill="#b2b5be" textLength="29.04" lengthAdjust="spacingAndGlyphs">Mar</text>
<text x="1006.05" y="946.1" font-size="16.3" fill="#b2b5be" textLength="18.59" lengthAdjust="spacingAndGlyphs">11</text>
<text x="1117.63" y="946.1" font-size="16.3" fill="#b2b5be" textLength="19.61" lengthAdjust="spacingAndGlyphs">21</text>
<text x="1237.61" y="946.1" font-size="16.3" fill="#b2b5be" textLength="25.69" lengthAdjust="spacingAndGlyphs">Apr</text>
<text x="1397.35" y="946.1" font-size="16.3" fill="#b2b5be" textLength="19.9" lengthAdjust="spacingAndGlyphs">15</text>
<g font-size="16.3" fill="#d4d7df">
<text x="12.95" y="26.45" textLength="79.67" lengthAdjust="spacingAndGlyphs">ekta65247</text>
<text x="96.38" y="26.45" textLength="72.23" lengthAdjust="spacingAndGlyphs">published</text>
<text x="172.54" y="26.45" textLength="18.68" lengthAdjust="spacingAndGlyphs">on</text>
<text x="196.21" y="26.45" textLength="128.74" lengthAdjust="spacingAndGlyphs">TradingView.com,</text>
<text x="328.81" y="26.45" textLength="28.69" lengthAdjust="spacingAndGlyphs">Mar</text>
<text x="362.15" y="26.45" textLength="21.34" lengthAdjust="spacingAndGlyphs">12,</text>
<text x="387.49" y="26.45" textLength="37.92" lengthAdjust="spacingAndGlyphs">2024</text>
<text x="429.67" y="26.45" textLength="36.13" lengthAdjust="spacingAndGlyphs">11:41</text>
<text x="469.63" y="26.45" textLength="76.5" lengthAdjust="spacingAndGlyphs">UTC+5:30</text>
</g>
<text x="23.52" y="61.2" font-size="17.3" fill="#d1d4dc" textLength="30.54" lengthAdjust="spacingAndGlyphs">XRP</text>
<text x="58.15" y="61.2" font-size="17.3" fill="#d1d4dc" textLength="4.93" lengthAdjust="spacingAndGlyphs">/</text>
<text x="68.18" y="61.2" font-size="17.3" fill="#d1d4dc" textLength="71.87" lengthAdjust="spacingAndGlyphs">TetherUS,</text>
<text x="144.5" y="61.2" font-size="17.3" fill="#d1d4dc" textLength="22.6" lengthAdjust="spacingAndGlyphs">1D,</text>
<text x="171.44" y="61.2" font-size="17.3" fill="#d1d4dc" textLength="68.62" lengthAdjust="spacingAndGlyphs">BINANCE</text>
<text x="248.97" y="61.2" font-size="17.3" fill="#d1d4dc" textLength="11.85" lengthAdjust="spacingAndGlyphs">O</text>
<text x="261.15" y="61.2" font-size="17.3" fill="#00bcd4" textLength="50.55" lengthAdjust="spacingAndGlyphs">0.7230</text>
<text x="320.26" y="61.2" font-size="17.3" fill="#d1d4dc" textLength="12.14" lengthAdjust="spacingAndGlyphs">H</text>
<text x="332.38" y="61.2" font-size="17.3" fill="#00bcd4" textLength="50.42" lengthAdjust="spacingAndGlyphs">0.7332</text>
<text x="391.56" y="61.2" font-size="17.3" fill="#d1d4dc" textLength="9.01" lengthAdjust="spacingAndGlyphs">L</text>
<text x="401.21" y="61.2" font-size="17.3" fill="#00bcd4" textLength="51.45" lengthAdjust="spacingAndGlyphs">0.6852</text>
<text x="461.11" y="61.2" font-size="17.3" fill="#d1d4dc" textLength="12.1" lengthAdjust="spacingAndGlyphs">C</text>
<text x="473.13" y="61.2" font-size="17.3" fill="#00bcd4" textLength="46.44" lengthAdjust="spacingAndGlyphs">0.6911</text>
<text x="528.9" y="61.2" font-size="17.3" fill="#00bcd4" textLength="58.92" lengthAdjust="spacingAndGlyphs">−0.0319</text>
<text x="593.77" y="61.2" font-size="17.3" fill="#00bcd4" textLength="65.49" lengthAdjust="spacingAndGlyphs">(−4.41%)</text>
<text x="23.5" y="739.6" font-size="17.2" fill="#d1d4dc" textLength="45.54" lengthAdjust="spacingAndGlyphs">MACD</text>
<text x="74.58" y="739.6" font-size="17.2" fill="#d1d4dc" textLength="26.36" lengthAdjust="spacingAndGlyphs">(12,</text>
<text x="105.12" y="739.6" font-size="17.2" fill="#d1d4dc" textLength="22.39" lengthAdjust="spacingAndGlyphs">26,</text>
<text x="132.65" y="739.6" font-size="17.2" fill="#d1d4dc" textLength="44.57" lengthAdjust="spacingAndGlyphs">close)</text>
<text x="186.58" y="739.6" font-size="17.2" fill="#26a69a" textLength="49.25" lengthAdjust="spacingAndGlyphs">0.0081</text>
<text x="245.61" y="739.6" font-size="17.2" fill="#2962ff" textLength="51.76" lengthAdjust="spacingAndGlyphs">0.0309</text>
<text x="306.65" y="739.6" font-size="17.2" fill="#ff6d00" textLength="51.53" lengthAdjust="spacingAndGlyphs">0.0228</text>
<text x="24.21" y="876.4" font-size="17.2" fill="#d1d4dc" textLength="21.04" lengthAdjust="spacingAndGlyphs">AO</text>
<text x="54.24" y="876.4" font-size="17.2" fill="#009688" textLength="50.82" lengthAdjust="spacingAndGlyphs">0.0706</text>
<g fill="#d1d4dc"><path d="M13 973.2H23.1V985.7H17.9V977.9H13Z"/><circle cx="27.4" cy="975.75" r="2.4"/><path d="M31.8 973.2H38.5L34.1 985.7H27.3Z"/></g>
<text x="43.14" y="986.6" font-size="17.5" fill="#d1d4dc" textLength="96.32" lengthAdjust="spacingAndGlyphs" stroke="#d1d4dc" stroke-width="0.4">TradingView</text>
</svg>
</body></html>
